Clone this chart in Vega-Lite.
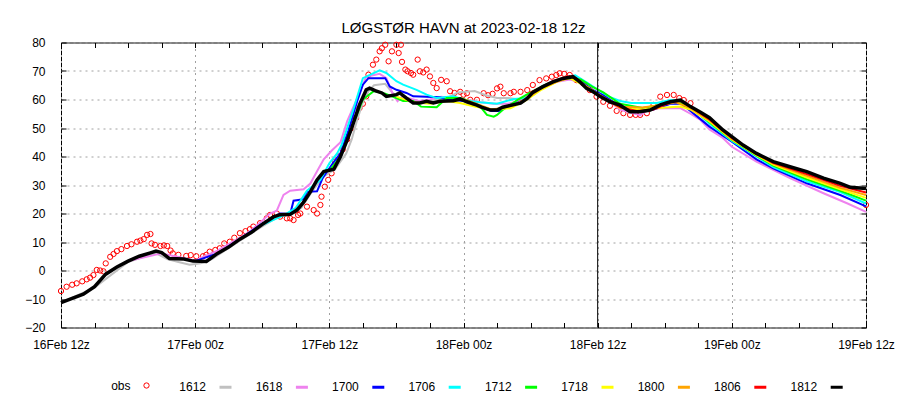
{
  "$schema": "https://vega.github.io/schema/vega-lite/v6.json",
  "width": 805,
  "height": 285,
  "autosize": {"type": "none"},
  "padding": {"left": 61, "top": 42.5, "right": 34, "bottom": 72.5},
  "background": "white",
  "title": {
    "text": "LØGSTØR HAVN at 2023-02-18 12z",
    "font": "Liberation Sans",
    "fontSize": 15,
    "fontWeight": "normal",
    "color": "black",
    "anchor": "middle",
    "frame": "group",
    "offset": 1
  },
  "config": {
    "view": {"stroke": "black", "strokeWidth": 1},
    "font": "Liberation Sans"
  },
  "data": {
    "values": [
      {"s":"obs","h":0,"v":-7.2},{"s":"obs","h":0.5,"v":-5.7},{"s":"obs","h":1,"v":-5},{"s":"obs","h":1.4,"v":-4.5},{"s":"obs","h":1.9,"v":-3.8},{"s":"obs","h":2.3,"v":-3.1},{"s":"obs","h":2.6,"v":-2.5},{"s":"obs","h":2.9,"v":-1.6},{"s":"obs","h":3.2,"v":0.2},{"s":"obs","h":3.5,"v":0},{"s":"obs","h":3.8,"v":-0.3},{"s":"obs","h":4,"v":2.5},{"s":"obs","h":4.4,"v":4.8},{"s":"obs","h":4.7,"v":5.8},{"s":"obs","h":5,"v":6.8},{"s":"obs","h":5.4,"v":7.5},{"s":"obs","h":5.9,"v":8.6},{"s":"obs","h":6.3,"v":9.2},{"s":"obs","h":6.8,"v":10.1},{"s":"obs","h":7.1,"v":10.5},{"s":"obs","h":7.4,"v":11},{"s":"obs","h":7.7,"v":12.5},{"s":"obs","h":8,"v":12.8},{"s":"obs","h":8.1,"v":9.5},{"s":"obs","h":8.4,"v":9},{"s":"obs","h":8.9,"v":8.6},{"s":"obs","h":9.2,"v":8.8},{"s":"obs","h":9.5,"v":8.6},{"s":"obs","h":9.8,"v":7},{"s":"obs","h":10,"v":6},{"s":"obs","h":10.5,"v":5.5},{"s":"obs","h":11.2,"v":5.1},{"s":"obs","h":11.6,"v":5.4},{"s":"obs","h":12.1,"v":5},{"s":"obs","h":12.7,"v":5},{"s":"obs","h":13,"v":5.5},{"s":"obs","h":13.3,"v":6.6},{"s":"obs","h":13.8,"v":7.2},{"s":"obs","h":14.2,"v":7.8},{"s":"obs","h":14.6,"v":9.5},{"s":"obs","h":15.1,"v":10.1},{"s":"obs","h":15.5,"v":11.5},{"s":"obs","h":16,"v":13.1},{"s":"obs","h":16.5,"v":13.8},{"s":"obs","h":16.9,"v":14.5},{"s":"obs","h":17.2,"v":15.4},{"s":"obs","h":17.8,"v":16.6},{"s":"obs","h":18.4,"v":18.3},{"s":"obs","h":18.7,"v":19.5},{"s":"obs","h":19.3,"v":20},{"s":"obs","h":19.6,"v":18.9},{"s":"obs","h":20.2,"v":18.3},{"s":"obs","h":20.5,"v":18.3},{"s":"obs","h":20.8,"v":17.7},{"s":"obs","h":21.2,"v":19.5},{"s":"obs","h":21.4,"v":20},{"s":"obs","h":22,"v":22.4},{"s":"obs","h":22.6,"v":21.2},{"s":"obs","h":22.9,"v":20},{"s":"obs","h":23.2,"v":23},{"s":"obs","h":23.3,"v":25.9},{"s":"obs","h":23.6,"v":29.4},{"s":"obs","h":23.9,"v":31.8},{"s":"obs","h":24.2,"v":34.1},{"s":"obs","h":24.5,"v":38.2},{"s":"obs","h":24.8,"v":40},{"s":"obs","h":25.2,"v":42.5},{"s":"obs","h":25.6,"v":46},{"s":"obs","h":26,"v":50},{"s":"obs","h":26.4,"v":53.5},{"s":"obs","h":26.7,"v":57},{"s":"obs","h":27,"v":58.5},{"s":"obs","h":27.3,"v":61.1},{"s":"obs","h":27.5,"v":68.7},{"s":"obs","h":27.9,"v":72.2},{"s":"obs","h":28.2,"v":74},{"s":"obs","h":28.5,"v":76.9},{"s":"obs","h":28.7,"v":78},{"s":"obs","h":29,"v":79.2},{"s":"obs","h":29.3,"v":73.4},{"s":"obs","h":29.6,"v":76.9},{"s":"obs","h":30,"v":79.2},{"s":"obs","h":30.2,"v":76.3},{"s":"obs","h":30.4,"v":79.2},{"s":"obs","h":30.5,"v":73.2},{"s":"obs","h":30.8,"v":70.5},{"s":"obs","h":31,"v":69.9},{"s":"obs","h":31.3,"v":69.3},{"s":"obs","h":31.5,"v":68.7},{"s":"obs","h":31.9,"v":74},{"s":"obs","h":32.1,"v":69.9},{"s":"obs","h":32.4,"v":69.5},{"s":"obs","h":32.7,"v":70.5},{"s":"obs","h":33,"v":68.1},{"s":"obs","h":33.3,"v":65.8},{"s":"obs","h":33.6,"v":64},{"s":"obs","h":34,"v":66.9},{"s":"obs","h":34.5,"v":66.4},{"s":"obs","h":34.8,"v":62.9},{"s":"obs","h":35.2,"v":62.3},{"s":"obs","h":35.7,"v":62.7},{"s":"obs","h":36,"v":61.7},{"s":"obs","h":36.3,"v":62.2},{"s":"obs","h":36.6,"v":59.9},{"s":"obs","h":36.9,"v":58.7},{"s":"obs","h":37.2,"v":59.9},{"s":"obs","h":37.8,"v":62.2},{"s":"obs","h":38.2,"v":61.5},{"s":"obs","h":38.6,"v":62},{"s":"obs","h":39,"v":63.9},{"s":"obs","h":39.3,"v":64.5},{"s":"obs","h":39.6,"v":62.2},{"s":"obs","h":40.2,"v":62.2},{"s":"obs","h":40.5,"v":62.7},{"s":"obs","h":41.1,"v":62.7},{"s":"obs","h":41.7,"v":63.3},{"s":"obs","h":42.2,"v":65.1},{"s":"obs","h":42.8,"v":66.8},{"s":"obs","h":43.4,"v":67.4},{"s":"obs","h":43.9,"v":68},{"s":"obs","h":44.3,"v":68.6},{"s":"obs","h":44.6,"v":69.2},{"s":"obs","h":45,"v":69},{"s":"obs","h":45.5,"v":68.6},{"s":"obs","h":46.1,"v":66.8},{"s":"obs","h":46.7,"v":65.7},{"s":"obs","h":47.3,"v":63.3},{"s":"obs","h":47.9,"v":61},{"s":"obs","h":48.5,"v":59.2},{"s":"obs","h":49.1,"v":57.8},{"s":"obs","h":49.7,"v":56},{"s":"obs","h":50.3,"v":55.2},{"s":"obs","h":50.9,"v":54.6},{"s":"obs","h":51.4,"v":54.6},{"s":"obs","h":51.8,"v":54.6},{"s":"obs","h":52.4,"v":55.2},{"s":"obs","h":53,"v":58.1},{"s":"obs","h":53.6,"v":61},{"s":"obs","h":54.2,"v":61.6},{"s":"obs","h":54.8,"v":61.6},{"s":"obs","h":55.3,"v":60.5},{"s":"obs","h":55.7,"v":59.8},{"s":"obs","h":56.3,"v":58.7},{"s":"obs","h":72,"v":23},

      {"s":"1612","h":0,"v":-11.3},{"s":"1612","h":3,"v":-6},{"s":"1612","h":6,"v":3},{"s":"1612","h":7.5,"v":5},{"s":"1612","h":8.5,"v":6},{"s":"1612","h":9.5,"v":4},{"s":"1612","h":10.5,"v":3},{"s":"1612","h":11.5,"v":2},{"s":"1612","h":12.5,"v":2.5},{"s":"1612","h":13.5,"v":4},{"s":"1612","h":16,"v":10.5},{"s":"1612","h":18,"v":15.5},{"s":"1612","h":19.5,"v":19},{"s":"1612","h":20.5,"v":19.5},{"s":"1612","h":21.5,"v":22},{"s":"1612","h":22.5,"v":28},{"s":"1612","h":23.5,"v":33},{"s":"1612","h":24.5,"v":35.5},{"s":"1612","h":25.5,"v":41},{"s":"1612","h":26,"v":46},{"s":"1612","h":26.5,"v":53},{"s":"1612","h":27,"v":59},{"s":"1612","h":27.5,"v":63},{"s":"1612","h":28,"v":65},{"s":"1612","h":29,"v":65.5},{"s":"1612","h":29.5,"v":63},{"s":"1612","h":30,"v":61},{"s":"1612","h":30.5,"v":60},{"s":"1612","h":31.5,"v":59},{"s":"1612","h":33,"v":59.5},{"s":"1612","h":34.5,"v":60.5},{"s":"1612","h":35.5,"v":62.5},{"s":"1612","h":37,"v":63},{"s":"1612","h":38,"v":61.5},{"s":"1612","h":39,"v":60.5},{"s":"1612","h":40,"v":60.5},{"s":"1612","h":41,"v":60},{"s":"1612","h":42,"v":60},

      {"s":"1618","h":6,"v":3.3},{"s":"1618","h":9,"v":6},{"s":"1618","h":12,"v":3.5},{"s":"1618","h":14,"v":7},{"s":"1618","h":16,"v":11.5},{"s":"1618","h":17,"v":14},{"s":"1618","h":18,"v":17.5},{"s":"1618","h":18.7,"v":20},{"s":"1618","h":19.3,"v":21},{"s":"1618","h":19.9,"v":26.5},{"s":"1618","h":20.5,"v":28},{"s":"1618","h":21.7,"v":28.5},{"s":"1618","h":22.3,"v":30.5},{"s":"1618","h":23,"v":35.5},{"s":"1618","h":23.5,"v":39},{"s":"1618","h":24.2,"v":42},{"s":"1618","h":25,"v":45},{"s":"1618","h":25.6,"v":52.4},{"s":"1618","h":26.5,"v":60.5},{"s":"1618","h":27.3,"v":68},{"s":"1618","h":28.5,"v":69},{"s":"1618","h":29.1,"v":67.5},{"s":"1618","h":29.7,"v":61.7},{"s":"1618","h":30.1,"v":59.4},{"s":"1618","h":30.5,"v":61},{"s":"1618","h":31,"v":60.5},{"s":"1618","h":32,"v":59.5},{"s":"1618","h":33,"v":60},{"s":"1618","h":34,"v":61},{"s":"1618","h":36,"v":60},{"s":"1618","h":37.5,"v":59},{"s":"1618","h":38.7,"v":58.5},{"s":"1618","h":40,"v":58.5},{"s":"1618","h":41,"v":59.5},{"s":"1618","h":42,"v":62},{"s":"1618","h":43,"v":64},{"s":"1618","h":44,"v":66},{"s":"1618","h":45.5,"v":67},{"s":"1618","h":46.5,"v":66},{"s":"1618","h":47.5,"v":63},{"s":"1618","h":48.5,"v":61},{"s":"1618","h":50,"v":56.5},{"s":"1618","h":51.8,"v":54.5},{"s":"1618","h":52.7,"v":56.8},{"s":"1618","h":55.4,"v":57},{"s":"1618","h":56.3,"v":55},{"s":"1618","h":57.2,"v":52.8},{"s":"1618","h":58,"v":49.5},{"s":"1618","h":59.2,"v":46.5},{"s":"1618","h":60,"v":43.4},{"s":"1618","h":62.2,"v":38.2},{"s":"1618","h":65.2,"v":32.4},{"s":"1618","h":68.2,"v":27.1},{"s":"1618","h":70.3,"v":23.6},{"s":"1618","h":72,"v":20.6},

      {"s":"1700","h":12,"v":3.3},{"s":"1700","h":14,"v":6},{"s":"1700","h":16,"v":11},{"s":"1700","h":18,"v":16.5},{"s":"1700","h":19.6,"v":20},{"s":"1700","h":20.5,"v":19.8},{"s":"1700","h":20.8,"v":24.5},{"s":"1700","h":21.7,"v":25},{"s":"1700","h":22,"v":27.6},{"s":"1700","h":22.9,"v":27.8},{"s":"1700","h":23.4,"v":32.4},{"s":"1700","h":24.2,"v":37},{"s":"1700","h":25,"v":41.2},{"s":"1700","h":25.7,"v":49},{"s":"1700","h":26.5,"v":59.5},{"s":"1700","h":27,"v":65.2},{"s":"1700","h":27.5,"v":67.5},{"s":"1700","h":29,"v":67.5},{"s":"1700","h":29.4,"v":64.6},{"s":"1700","h":30,"v":63.4},{"s":"1700","h":30.9,"v":62.3},{"s":"1700","h":31.5,"v":61.1},{"s":"1700","h":33.9,"v":60.8},{"s":"1700","h":34.5,"v":60},{"s":"1700","h":36,"v":59.5},{"s":"1700","h":37.5,"v":57.5},{"s":"1700","h":38.5,"v":56},{"s":"1700","h":39.2,"v":56},{"s":"1700","h":40,"v":57.5},{"s":"1700","h":41.5,"v":60},{"s":"1700","h":42.5,"v":63},{"s":"1700","h":44,"v":66},{"s":"1700","h":45.5,"v":67.8},{"s":"1700","h":46.5,"v":66.5},{"s":"1700","h":47.5,"v":63.5},{"s":"1700","h":48.5,"v":61.5},{"s":"1700","h":50,"v":57.5},{"s":"1700","h":51.5,"v":56},{"s":"1700","h":53,"v":56.5},{"s":"1700","h":54.5,"v":58.5},{"s":"1700","h":55.5,"v":58.5},{"s":"1700","h":56.3,"v":56},{"s":"1700","h":58,"v":50.5},{"s":"1700","h":60,"v":45.2},{"s":"1700","h":62.2,"v":39},{"s":"1700","h":63.7,"v":35.8},{"s":"1700","h":66.7,"v":30.6},{"s":"1700","h":69.7,"v":26.5},{"s":"1700","h":72,"v":22.5},

      {"s":"1706","h":18,"v":16},{"s":"1706","h":20,"v":19.5},{"s":"1706","h":21,"v":22},{"s":"1706","h":22,"v":28},{"s":"1706","h":23.2,"v":31.8},{"s":"1706","h":24,"v":37.6},{"s":"1706","h":24.7,"v":41.1},{"s":"1706","h":25.1,"v":44.1},{"s":"1706","h":26.1,"v":55.9},{"s":"1706","h":27,"v":67.5},{"s":"1706","h":28.5,"v":70.2},{"s":"1706","h":29.1,"v":69.3},{"s":"1706","h":30,"v":66.4},{"s":"1706","h":30.6,"v":65.2},{"s":"1706","h":31.8,"v":63.4},{"s":"1706","h":32.7,"v":61.7},{"s":"1706","h":33.6,"v":60.5},{"s":"1706","h":35.1,"v":61.1},{"s":"1706","h":36.3,"v":59.6},{"s":"1706","h":37.5,"v":59},{"s":"1706","h":39,"v":58.5},{"s":"1706","h":40.5,"v":60.2},{"s":"1706","h":41.7,"v":60.5},{"s":"1706","h":43,"v":64.5},{"s":"1706","h":44.5,"v":67},{"s":"1706","h":46,"v":68.5},{"s":"1706","h":47,"v":66},{"s":"1706","h":48,"v":63.5},{"s":"1706","h":49,"v":61},{"s":"1706","h":50,"v":59.5},{"s":"1706","h":51,"v":58.8},{"s":"1706","h":53.3,"v":58.8},{"s":"1706","h":54.5,"v":59.8},{"s":"1706","h":55.5,"v":59.5},{"s":"1706","h":56.3,"v":57.5},{"s":"1706","h":58,"v":51.5},{"s":"1706","h":60,"v":45.5},{"s":"1706","h":62.2,"v":40},{"s":"1706","h":63.7,"v":36.3},{"s":"1706","h":66.7,"v":31.3},{"s":"1706","h":69.7,"v":27.5},{"s":"1706","h":72,"v":23.5},

      {"s":"1712","h":24,"v":35},{"s":"1712","h":25,"v":40},{"s":"1712","h":26,"v":50},{"s":"1712","h":27,"v":60},{"s":"1712","h":28,"v":63},{"s":"1712","h":29,"v":62},{"s":"1712","h":30,"v":60.5},{"s":"1712","h":30.6,"v":59.5},{"s":"1712","h":31.5,"v":59.5},{"s":"1712","h":32.2,"v":57.5},{"s":"1712","h":33.6,"v":57.3},{"s":"1712","h":34.5,"v":60.5},{"s":"1712","h":35.7,"v":60.5},{"s":"1712","h":36.5,"v":59.5},{"s":"1712","h":37.5,"v":57.5},{"s":"1712","h":38.1,"v":54.6},{"s":"1712","h":38.7,"v":54},{"s":"1712","h":39,"v":54.6},{"s":"1712","h":39.5,"v":56.3},{"s":"1712","h":40.8,"v":59.8},{"s":"1712","h":42,"v":62.5},{"s":"1712","h":43.5,"v":65.5},{"s":"1712","h":45,"v":67.5},{"s":"1712","h":46.5,"v":67},{"s":"1712","h":47.5,"v":64.5},{"s":"1712","h":48.5,"v":62.5},{"s":"1712","h":50,"v":58.5},{"s":"1712","h":52,"v":57},{"s":"1712","h":53.5,"v":58},{"s":"1712","h":55,"v":59.5},{"s":"1712","h":56.3,"v":57},{"s":"1712","h":58,"v":52},{"s":"1712","h":60,"v":45.8},{"s":"1712","h":62.2,"v":40.3},{"s":"1712","h":63.7,"v":36.8},{"s":"1712","h":66.7,"v":32},{"s":"1712","h":69.7,"v":28},{"s":"1712","h":72,"v":24.5},

      {"s":"1718","h":30,"v":61},{"s":"1718","h":31.5,"v":59},{"s":"1718","h":33,"v":58.5},{"s":"1718","h":34.5,"v":59.5},{"s":"1718","h":35.7,"v":58.8},{"s":"1718","h":37,"v":57.5},{"s":"1718","h":38.5,"v":56.5},{"s":"1718","h":40.2,"v":56.9},{"s":"1718","h":41.5,"v":59.5},{"s":"1718","h":43,"v":63.5},{"s":"1718","h":44.5,"v":66.5},{"s":"1718","h":45.5,"v":67.5},{"s":"1718","h":47,"v":64.5},{"s":"1718","h":48,"v":62},{"s":"1718","h":50,"v":57},{"s":"1718","h":52,"v":56.5},{"s":"1718","h":53.5,"v":57},{"s":"1718","h":55.4,"v":57.5},{"s":"1718","h":56.3,"v":56.5},{"s":"1718","h":58,"v":52.3},{"s":"1718","h":60,"v":46},{"s":"1718","h":62.2,"v":40.5},{"s":"1718","h":63.7,"v":37.2},{"s":"1718","h":66.7,"v":32.6},{"s":"1718","h":69.7,"v":28.5},{"s":"1718","h":72,"v":25.5},

      {"s":"1800","h":36,"v":60},{"s":"1800","h":37.5,"v":58},{"s":"1800","h":38.5,"v":56.5},{"s":"1800","h":39.5,"v":57},{"s":"1800","h":40.5,"v":58},{"s":"1800","h":41.7,"v":60.5},{"s":"1800","h":43,"v":64},{"s":"1800","h":44.5,"v":66.5},{"s":"1800","h":45.8,"v":68},{"s":"1800","h":47,"v":64.5},{"s":"1800","h":48,"v":62},{"s":"1800","h":50,"v":57.5},{"s":"1800","h":52,"v":57.2},{"s":"1800","h":53.5,"v":58},{"s":"1800","h":55,"v":59},{"s":"1800","h":56.3,"v":57},{"s":"1800","h":58,"v":52.7},{"s":"1800","h":60,"v":46.2},{"s":"1800","h":62.2,"v":40.7},{"s":"1800","h":63.7,"v":37.5},{"s":"1800","h":66.7,"v":33.2},{"s":"1800","h":69.7,"v":29},{"s":"1800","h":72,"v":26.5},

      {"s":"1806","h":42,"v":62.5},{"s":"1806","h":43.1,"v":64.5},{"s":"1806","h":44,"v":66.5},{"s":"1806","h":45.5,"v":68.2},{"s":"1806","h":46.4,"v":66.5},{"s":"1806","h":47,"v":64},{"s":"1806","h":48,"v":61.5},{"s":"1806","h":50,"v":57.3},{"s":"1806","h":51.5,"v":56},{"s":"1806","h":53,"v":56.5},{"s":"1806","h":54.5,"v":59},{"s":"1806","h":55.4,"v":59.5},{"s":"1806","h":56.3,"v":57.5},{"s":"1806","h":58,"v":53},{"s":"1806","h":60,"v":46.5},{"s":"1806","h":62.2,"v":41},{"s":"1806","h":63.7,"v":37.8},{"s":"1806","h":66.7,"v":33.8},{"s":"1806","h":69.7,"v":29.7},{"s":"1806","h":72,"v":27.4},

      {"s":"1812","h":0,"v":-11.3},{"s":"1812","h":1,"v":-9.8},{"s":"1812","h":2,"v":-8.3},{"s":"1812","h":3,"v":-5.7},{"s":"1812","h":4,"v":-1.3},{"s":"1812","h":5,"v":1.2},{"s":"1812","h":6,"v":3.3},{"s":"1812","h":7,"v":5},{"s":"1812","h":8,"v":6.2},{"s":"1812","h":8.5,"v":6.8},{"s":"1812","h":9,"v":6.3},{"s":"1812","h":9.7,"v":4.2},{"s":"1812","h":11,"v":4},{"s":"1812","h":11.8,"v":3.3},{"s":"1812","h":13,"v":3.2},{"s":"1812","h":14,"v":6},{"s":"1812","h":15,"v":8.2},{"s":"1812","h":16,"v":11},{"s":"1812","h":17,"v":13.3},{"s":"1812","h":18,"v":16.2},{"s":"1812","h":19,"v":18.8},{"s":"1812","h":19.6,"v":19.6},{"s":"1812","h":20.5,"v":19.7},{"s":"1812","h":21.1,"v":21.2},{"s":"1812","h":21.7,"v":24},{"s":"1812","h":22.3,"v":27.6},{"s":"1812","h":22.9,"v":31.8},{"s":"1812","h":23.5,"v":34.7},{"s":"1812","h":24.4,"v":35.5},{"s":"1812","h":25,"v":40},{"s":"1812","h":25.6,"v":45.8},{"s":"1812","h":26,"v":50},{"s":"1812","h":26.7,"v":58.2},{"s":"1812","h":27.3,"v":63.4},{"s":"1812","h":27.6,"v":64},{"s":"1812","h":28.1,"v":63.1},{"s":"1812","h":28.7,"v":62.3},{"s":"1812","h":29.1,"v":61.1},{"s":"1812","h":30,"v":61.7},{"s":"1812","h":30.3,"v":62.3},{"s":"1812","h":30.9,"v":60.5},{"s":"1812","h":31.5,"v":58.8},{"s":"1812","h":32.1,"v":58.8},{"s":"1812","h":32.7,"v":59.4},{"s":"1812","h":33.3,"v":58.8},{"s":"1812","h":33.9,"v":59.4},{"s":"1812","h":35.1,"v":59.6},{"s":"1812","h":35.7,"v":60.2},{"s":"1812","h":36.3,"v":59.2},{"s":"1812","h":37.2,"v":58},{"s":"1812","h":37.6,"v":57.3},{"s":"1812","h":38.4,"v":56.3},{"s":"1812","h":39,"v":56.3},{"s":"1812","h":39.5,"v":57.3},{"s":"1812","h":40.4,"v":58.1},{"s":"1812","h":41.1,"v":58.7},{"s":"1812","h":41.7,"v":60.4},{"s":"1812","h":42.2,"v":62.5},{"s":"1812","h":43.1,"v":64.5},{"s":"1812","h":44,"v":66.2},{"s":"1812","h":44.9,"v":67.4},{"s":"1812","h":45.8,"v":68},{"s":"1812","h":46.4,"v":66.2},{"s":"1812","h":47,"v":63.9},{"s":"1812","h":47.6,"v":62.7},{"s":"1812","h":48.2,"v":61.1},{"s":"1812","h":49.1,"v":59.2},{"s":"1812","h":50,"v":58},{"s":"1812","h":50.9,"v":55.7},{"s":"1812","h":51.8,"v":55.7},{"s":"1812","h":52.7,"v":56.3},{"s":"1812","h":53.6,"v":58.1},{"s":"1812","h":54.5,"v":59.2},{"s":"1812","h":55.4,"v":59.8},{"s":"1812","h":56.3,"v":57.5},{"s":"1812","h":57.2,"v":55.5},{"s":"1812","h":58,"v":53.6},{"s":"1812","h":59.2,"v":49.3},{"s":"1812","h":60,"v":47},{"s":"1812","h":61,"v":44},{"s":"1812","h":62.2,"v":41.1},{"s":"1812","h":63.7,"v":38.2},{"s":"1812","h":65.2,"v":36.4},{"s":"1812","h":66.7,"v":34.7},{"s":"1812","h":68.2,"v":32.4},{"s":"1812","h":69.7,"v":30.6},{"s":"1812","h":70.6,"v":29.2},{"s":"1812","h":72,"v":28.8}
    ]
  },
  "resolve": {"axis": {"x": "independent", "y": "independent"}},
  "layer": [
    {
      "transform": [{"filter": "datum.s === 'obs'"}],
      "mark": {"type": "point", "filled": false, "color": "#ff0000", "size": 28, "strokeWidth": 1, "opacity": 1},
      "encoding": {
        "x": {
          "field": "h",
          "type": "quantitative",
          "scale": {"domain": [0, 72], "nice": false, "zero": false},
          "axis": {
            "orient": "bottom",
            "values": [0,3,6,9,12,15,18,21,24,27,30,33,36,39,42,45,48,51,54,57,60,63,66,69,72],
            "labelExpr": "datum.value % 12 === 0 ? ['16Feb 12z','17Feb 00z','17Feb 12z','18Feb 00z','18Feb 12z','19Feb 00z','19Feb 12z'][datum.value / 12] : ''",
            "title": null,
            "domain": false,
            "tickSize": -5,
            "tickColor": "black",
            "labelPadding": 17,
            "labelFont": "Liberation Sans",
            "labelFontSize": 12,
            "labelColor": "black",
            "labelOverlap": false,
            "labelFlush": false,
            "labelBound": false,
            "grid": true,
            "gridColor": "#a0a0a0",
            "gridDash": [2, 4],
            "gridOpacity": {"condition": {"test": "datum.value % 12 === 0", "value": 1}, "value": 0}
          }
        },
        "y": {
          "field": "v",
          "type": "quantitative",
          "scale": {"domain": [-20, 80], "nice": false, "zero": false},
          "axis": {
            "orient": "left",
            "values": [-20,-10,0,10,20,30,40,50,60,70,80],
            "title": null,
            "domain": false,
            "tickSize": -5,
            "tickColor": "black",
            "labelPadding": 21,
            "labelFont": "Liberation Sans",
            "labelFontSize": 12,
            "labelColor": "black",
            "grid": true,
            "gridColor": "#a0a0a0",
            "gridDash": [2, 4]
          }
        },
        "shape": {
          "field": "s",
          "type": "nominal",
          "scale": {"domain": ["obs"], "range": ["circle"]},
          "legend": {
            "orient": "none",
            "legendX": 79.5,
            "legendY": 337,
            "title": null,
            "symbolSize": 28,
            "symbolStrokeColor": "#ff0000",
            "symbolFillColor": "transparent",
            "symbolStrokeWidth": 1,
            "labelAlign": "right",
            "labelOffset": -22,
            "labelFont": "Liberation Sans",
            "labelFontSize": 12,
            "labelColor": "black"
          }
        }
      }
    },
    {
      "transform": [{"filter": "datum.s !== 'obs'"}],
      "mark": {"type": "line", "interpolate": "linear"},
      "encoding": {
        "x": {
          "field": "h",
          "type": "quantitative",
          "scale": {"domain": [0, 72], "nice": false, "zero": false},
          "axis": {
            "orient": "top",
            "values": [0,3,6,9,12,15,18,21,24,27,30,33,36,39,42,45,48,51,54,57,60,63,66,69,72],
            "labels": false,
            "title": null,
            "domain": false,
            "tickSize": -5,
            "tickColor": "black",
            "grid": false
          }
        },
        "y": {
          "field": "v",
          "type": "quantitative",
          "scale": {"domain": [-20, 80], "nice": false, "zero": false},
          "axis": {
            "orient": "right",
            "values": [-20,-10,0,10,20,30,40,50,60,70,80],
            "labels": false,
            "title": null,
            "domain": false,
            "tickSize": -5,
            "tickColor": "black",
            "grid": false
          }
        },
        "color": {
          "field": "s",
          "type": "nominal",
          "scale": {
            "domain": ["1612","1618","1700","1706","1712","1718","1800","1806","1812"],
            "range": ["#c0c0c0","#ee82ee","#0000ff","#00ffff","#00ff00","#ffff00","#ffa500","#ff0000","#000000"]
          },
          "legend": {
            "orient": "none",
            "legendX": 157,
            "legendY": 337,
            "direction": "horizontal",
            "columns": 9,
            "title": null,
            "gridAlign": "all",
            "columnPadding": 17.4,
            "symbolType": "stroke",
            "symbolSize": 144,
            "symbolStrokeWidth": 3,
            "labelAlign": "right",
            "labelOffset": -27,
            "labelFont": "Liberation Sans",
            "labelFontSize": 12,
            "labelColor": "black"
          }
        },
        "strokeWidth": {"condition": {"test": "datum.s === '1812'", "value": 3.5}, "value": 2}
      }
    },
    {
      "data": {"values": [{"h": 48}]},
      "mark": {"type": "rule", "color": "black", "strokeWidth": 1},
      "encoding": {
        "x": {"field": "h", "type": "quantitative", "scale": {"domain": [0, 72], "nice": false, "zero": false}, "axis": null}
      }
    }
  ]
}
